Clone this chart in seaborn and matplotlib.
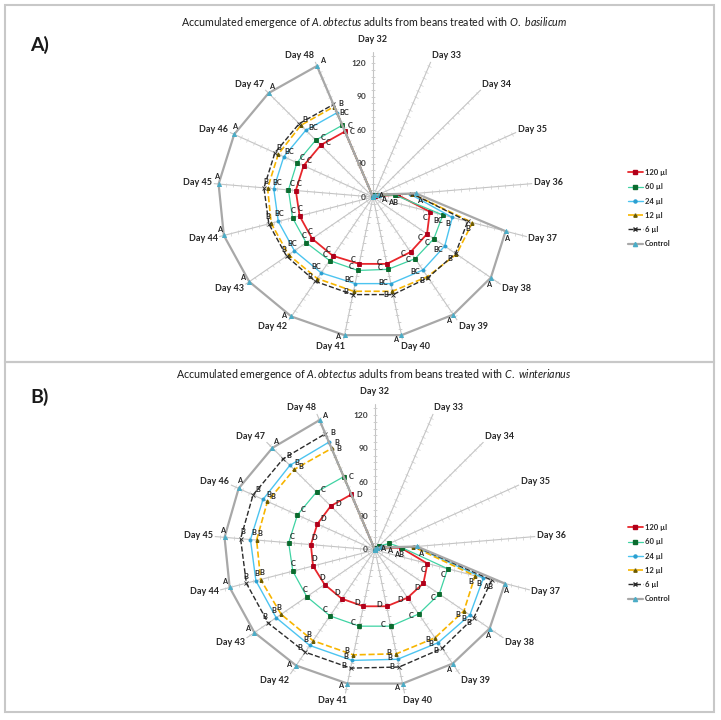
import numpy as np
import pandas as pd
import matplotlib
matplotlib.use('Agg')
import matplotlib.pyplot as plt
import seaborn as sns
from matplotlib.patches import Rectangle
from matplotlib.lines import Line2D
from matplotlib.markers import MarkerStyle
from matplotlib.transforms import Affine2D

# ---- data ----
days = ['Day 32', 'Day 33', 'Day 34', 'Day 35', 'Day 36', 'Day 37', 'Day 38', 'Day 39', 'Day 40',
        'Day 41', 'Day 42', 'Day 43', 'Day 44', 'Day 45', 'Day 46', 'Day 47', 'Day 48']
doses = ['120 µl', '60 µl', '24 µl', '12 µl', '6 µl', 'Control']

# A) O. basilicum
a_120 = [0, 0, 1, 2, 20, 48, 55, 58, 61, 61, 62, 62, 62, 63, 63, 63, 63]
a_60 = [0, 1, 2, 4, 18, 59, 62, 65, 66, 67, 67, 68, 68, 69, 69, 69, 69]
a_24 = [0, 1, 2, 5, 30, 67, 73, 77, 79, 79, 80, 80, 80, 81, 81, 81, 81]
a_12 = [0, 1, 2, 5, 32, 84, 85, 84, 86, 86, 86, 86, 86, 86, 86, 87, 87]
a_6 = [0, 1, 2, 5, 32, 80, 84, 85, 89, 89, 89, 88, 88, 89, 89, 89, 89]
a_ctrl = [0, 1, 2, 5, 35, 112, 120, 124, 126, 126, 126, 126, 126, 126, 126, 126, 126]

# B) C. winterianus
b_120 = [0, 1, 2, 5, 21, 44, 49, 50, 51, 51, 51, 51, 52, 52, 52, 53, 53]
b_60 = [0, 2, 5, 13, 22, 61, 65, 67, 69, 69, 69, 69, 69, 70, 70, 70, 70]
b_24 = [0, 1, 2, 5, 32, 91, 96, 97, 99, 100, 100, 100, 100, 101, 101, 102, 103]
b_12 = [0, 1, 2, 5, 31, 84, 90, 92, 94, 95, 95, 95, 96, 96, 97, 97, 97]
b_6 = [0, 1, 2, 5, 33, 98, 100, 103, 106, 107, 107, 108, 108, 109, 110, 110, 111]
b_ctrl = [0, 1, 2, 5, 34, 109, 116, 119, 121, 121, 121, 122, 122, 122, 123, 123, 124]

# significance letters
a_120_let = ['', '', '', '', '', 'C', 'C', 'C', 'C', 'C', 'C', 'C', 'C', 'C', 'C', 'C', 'C']
a_60_let = ['', '', '', '', 'AB', 'BC', 'C', 'C', 'C', 'C', 'C', 'C', 'C', 'C', 'C', 'C', 'C']
a_24_let = ['', '', '', '', '', 'B', 'BC', 'BC', 'BC', 'BC', 'BC', 'BC', 'BC', 'BC', 'BC', 'BC', 'BC']
a_12_let = ['', '', '', '', '', 'B', '', '', '', '', '', '', '', '', '', '', '']
a_6_let = ['', '', '', '', '', '', 'B', 'B', 'B', 'B', 'B', 'B', 'B', 'B', 'B', 'B', 'B']
a_ctrl_let = ['', 'A', '', 'A', 'A', 'A', 'A', 'A', 'A', 'A', 'A', 'A', 'A', 'A', 'A', 'A', 'A']

b_120_let = ['', '', '', '', 'AB', 'C', 'D', 'D', 'D', 'D', 'D', 'D', 'D', 'D', 'D', 'D', 'D']
b_60_let = ['', '', '', 'A', '', 'C', 'C', 'C', 'C', 'C', 'C', 'C', 'C', 'C', 'C', 'C', 'C']
b_24_let = ['', '', '', '', '', 'B', 'B', 'B', 'B', 'B', 'B', 'B', 'B', 'B', 'B', 'B', 'B']
b_12_let = ['', '', '', '', '', 'B', 'B', 'B', 'B', 'B', 'B', 'B', 'B', 'B', 'B', 'B', 'B']
b_6_let = ['', '', '', '', '', 'AB', 'B', 'B', 'B', 'B', 'B', 'B', 'B', 'B', 'B', 'B', 'B']
b_ctrl_let = ['', 'A', '', '', 'A', 'A', 'A', 'A', 'A', 'A', 'A', 'A', 'A', 'A', 'A', 'A', 'A']

# ---- styling ----
sns.set_theme(style='white')
plt.rcParams['font.family'] = ['Lato', 'DejaVu Sans']
plt.rcParams['mathtext.fontset'] = 'custom'
plt.rcParams['mathtext.rm'] = 'Lato'
plt.rcParams['mathtext.it'] = 'Lato:italic'

styles = {
    '120 µl': dict(color='#e8262b', ls='-', lw=1.3, marker='s', ms=3.2, mfc='#b0001a', mec='#b0001a'),
    '60 µl': dict(color='#3fd3a3', ls='-', lw=0.9, marker='s', ms=2.6, mfc='#0b6b2e', mec='#0b6b2e'),
    '24 µl': dict(color='#4cc4f0', ls='-', lw=1.0, marker='o', ms=2.2, mfc='#2c9fd0', mec='#2c9fd0'),
    '12 µl': dict(color='#f7b500', ls='--', lw=1.2, marker='^', ms=2.4, mfc='#6b5a00', mec='#6b5a00'),
    '6 µl': dict(color='#2b2b2b', ls='--', lw=1.0, marker='x', ms=2.8, mfc='#2b2b2b', mec='#2b2b2b'),
    'Control': dict(color='#a8a8a8', ls='-', lw=1.6, marker='^', ms=3.0, mfc='#4bacc6', mec='#4bacc6'),
}
lab_in = {'120 µl': 2, '60 µl': 2, '24 µl': 2, '12 µl': 2, '6 µl': 1, 'Control': -2}

fig = plt.figure(figsize=(7.21, 7.2), dpi=100)
W, H = 721, 720
PX = 0.72  # points per pixel at 100 dpi

theta = np.linspace(0, 2 * np.pi, len(days), endpoint=False)
ticks_r = [0, 30, 60, 90, 120]
minor_r = np.arange(6, 131, 6)
r_max = 130


def radar(rect, series, letters, legend_y):
    ax = fig.add_axes(rect, projection='polar')
    ax.set_aspect('auto')
    ax.set_theta_zero_location('N')
    ax.set_theta_direction(-1)
    ax.set_ylim(0, r_max)
    ax.set_facecolor('none')
    ax.spines['polar'].set_visible(False)
    ax.yaxis.grid(False)
    ax.xaxis.grid(True, color='#c4c4c4', lw=0.8)
    ax.set_xticks(theta)
    ax.set_xticklabels([])
    ax.set_yticks(ticks_r)
    ax.set_yticklabels([])

    # category labels beside the spoke ends
    for th, d in zip(theta, days):
        dx = 16 * np.tanh(6 * np.sin(th))
        dy = 12 if th == 0 else 7 * np.cos(th)
        ax.annotate(d, (th, r_max), xytext=(dx * PX, dy * PX), textcoords='offset points', ha='center',
                    va='center', fontsize=6.5, fontweight='bold', color='#262626', annotation_clip=False)

    # small tick marks along every spoke
    for th in theta:
        deg = np.degrees(th)
        mk = MarkerStyle('|', transform=Affine2D().rotate_deg(90 - deg))
        ax.plot([th] * len(minor_r), minor_r, ls='none', marker=mk, ms=2.6, mew=0.5, color='#cccccc')

    for r in ticks_r:
        ax.annotate(str(r), (0, r), xytext=(-5, 0), textcoords='offset points', ha='right', va='center',
                    fontsize=6, fontweight='bold', color='#404040')

    for name in doses:
        vals = series[name]
        df = pd.DataFrame({'theta': list(theta) + [theta[0] + 2 * np.pi], 'value': list(vals) + [vals[0]]})
        st = styles[name]
        sns.lineplot(data=df, x='theta', y='value', ax=ax, sort=False, color=st['color'], linestyle=st['ls'],
                     linewidth=st['lw'], marker=st['marker'], markersize=st['ms'], markerfacecolor=st['mfc'],
                     markeredgecolor=st['mec'], markeredgewidth=0.6, zorder=3)
        k = lab_in[name]
        for th, v, t in zip(theta, vals, letters[name]):
            if not t:
                continue
            dx = 5 * np.cos(th) - k * np.sin(th)
            dy = -5 * np.sin(th) - k * np.cos(th)
            ax.annotate(t, (th, v), xytext=(dx, dy), textcoords='offset points', ha='center', va='center',
                        fontsize=5.3, fontweight='bold', color='#262626', zorder=5)
    ax.set_xlabel('')
    ax.set_ylabel('')

    handles = [Line2D([], [], color=styles[n]['color'], ls=styles[n]['ls'], lw=styles[n]['lw'],
                      marker=styles[n]['marker'], ms=styles[n]['ms'], mfc=styles[n]['mfc'],
                      mec=styles[n]['mec']) for n in doses]
    fig.legend(handles, doses, loc='upper left', bbox_to_anchor=(628 / W, 1 - legend_y / H), frameon=False,
               prop=dict(size=5.5, weight='bold'), handlelength=1.9, labelspacing=0.95, handletextpad=0.3,
               borderpad=0, borderaxespad=0)
    return ax


radar([213 / W, 1 - 342 / H, 320 / W, 290 / H],
      {'120 µl': a_120, '60 µl': a_60, '24 µl': a_24, '12 µl': a_12, '6 µl': a_6, 'Control': a_ctrl},
      {'120 µl': a_120_let, '60 µl': a_60_let, '24 µl': a_24_let, '12 µl': a_12_let, '6 µl': a_6_let,
       'Control': a_ctrl_let}, 169)
radar([214 / W, 1 - 696 / H, 322 / W, 292 / H],
      {'120 µl': b_120, '60 µl': b_60, '24 µl': b_24, '12 µl': b_12, '6 µl': b_6, 'Control': b_ctrl},
      {'120 µl': b_120_let, '60 µl': b_60_let, '24 µl': b_24_let, '12 µl': b_12_let, '6 µl': b_6_let,
       'Control': b_ctrl_let}, 524)

# panel frames, titles and letters
for y0, y1 in [(5, 362), (362, 712)]:
    fig.add_artist(Rectangle((5 / W, 1 - y1 / H), 709 / W, (y1 - y0) / H, transform=fig.transFigure,
                             fill=False, ec='#c8c8c8', lw=1.5))

fig.text(374 / W, 1 - 23 / H, r'Accumulated emergence of $\mathit{A.obtectus}$ adults from beans treated with $\mathit{O.\ basilicum}$',
         ha='center', va='center', fontsize=7.7, color='#1a1a1a')
fig.text(374 / W, 1 - 375 / H, r'Accumulated emergence of $\mathit{A.obtectus}$ adults from beans treated with $\mathit{C.\ winterianus}$',
         ha='center', va='center', fontsize=7.7, color='#1a1a1a')
fig.text(30 / W, 1 - 45 / H, 'A)', ha='left', va='center', fontsize=14, fontweight='bold', color='#1a1a1a')
fig.text(30 / W, 1 - 397 / H, 'B)', ha='left', va='center', fontsize=14, fontweight='bold', color='#1a1a1a')

fig.savefig('out.png', dpi=100, facecolor='white')
